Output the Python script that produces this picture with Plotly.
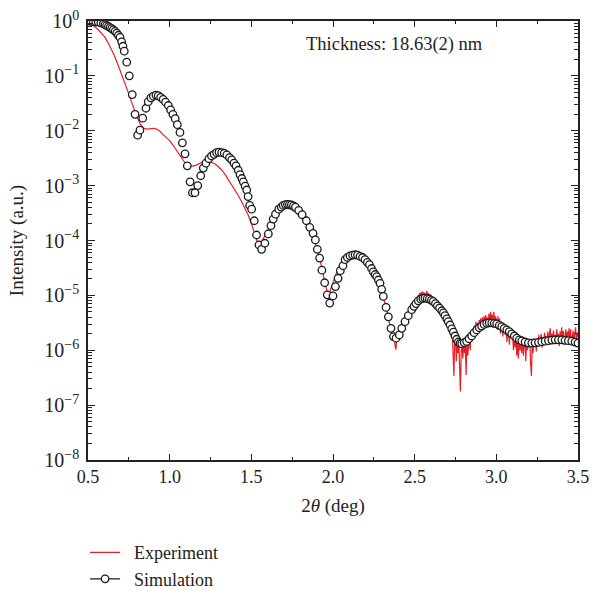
import numpy as np
import plotly.graph_objects as go

# ---------------- data ----------------
# Simulation: 2theta (deg) and log10(intensity)
sim_x = [0.500, 0.516, 0.532, 0.548, 0.563, 0.579, 0.594, 0.604, 0.614, 0.625,
         0.635, 0.645, 0.655, 0.666, 0.676, 0.686, 0.696, 0.706, 0.714, 0.722,
         0.737, 0.753, 0.771, 0.788, 0.804, 0.818, 0.835, 0.855, 0.869, 0.885,
         0.900, 0.916, 0.930, 0.945, 0.960, 0.975, 0.992, 1.006, 1.020, 1.034,
         1.047, 1.063, 1.078, 1.094, 1.108, 1.125, 1.139, 1.155, 1.172, 1.190,
         1.206, 1.222, 1.240, 1.256, 1.272, 1.287, 1.302, 1.318, 1.334, 1.350,
         1.366, 1.380, 1.394, 1.406, 1.420, 1.431, 1.442, 1.451, 1.462, 1.472,
         1.480, 1.490, 1.502, 1.518, 1.532, 1.547, 1.563, 1.583, 1.604, 1.620,
         1.634, 1.648, 1.668, 1.683, 1.695, 1.708, 1.721, 1.733, 1.745, 1.758,
         1.770, 1.790, 1.811, 1.837, 1.858, 1.878, 1.892, 1.904, 1.918, 1.932,
         1.949, 1.965, 1.980, 2.000, 2.015, 2.031, 2.045, 2.061, 2.074, 2.088,
         2.104, 2.120, 2.135, 2.150, 2.166, 2.181, 2.196, 2.210, 2.223, 2.236,
         2.247, 2.258, 2.268, 2.278, 2.288, 2.298, 2.308, 2.325, 2.339, 2.355,
         2.370, 2.386, 2.406, 2.421, 2.441, 2.461, 2.482, 2.496, 2.508, 2.522,
         2.537, 2.550, 2.563, 2.577, 2.590, 2.602, 2.614, 2.627, 2.639, 2.652,
         2.666, 2.676, 2.686, 2.697, 2.706, 2.717, 2.727, 2.737, 2.747, 2.757,
         2.767, 2.778, 2.788, 2.803, 2.818, 2.833, 2.849, 2.864, 2.880, 2.895,
         2.910, 2.925, 2.941, 2.956, 2.972, 2.987, 3.002, 3.018, 3.033, 3.048,
         3.064, 3.079, 3.094, 3.110, 3.125, 3.141, 3.156, 3.176, 3.196, 3.217,
         3.237, 3.258, 3.278, 3.299, 3.319, 3.340, 3.360, 3.380, 3.401, 3.421,
         3.441, 3.462, 3.482, 3.500]
sim_log10 = [0.00, -0.005, -0.01, -0.015, -0.02, -0.035, -0.05, -0.065, -0.085, -0.10,
             -0.12, -0.14, -0.16, -0.19, -0.22, -0.26, -0.30, -0.38, -0.46, -0.55,
             -0.75, -1.00, -1.34, -1.70, -2.08, -1.99, -1.77, -1.59, -1.47, -1.40,
             -1.37, -1.35, -1.36, -1.39, -1.43, -1.48, -1.54, -1.62, -1.70, -1.78,
             -1.89, -2.03, -2.22, -2.42, -2.64, -2.93, -3.13, -3.13, -3.00, -2.82,
             -2.68, -2.59, -2.51, -2.46, -2.43, -2.40, -2.39, -2.40, -2.41, -2.44,
             -2.49, -2.53, -2.59, -2.64, -2.72, -2.80, -2.87, -2.93, -3.01, -3.08,
             -3.20, -3.36, -3.43, -3.64, -3.90, -4.08, -4.16, -4.05, -3.88, -3.73,
             -3.61, -3.52, -3.43, -3.39, -3.36, -3.345, -3.34, -3.345, -3.35, -3.37,
             -3.39, -3.45, -3.53, -3.64, -3.76, -3.87, -3.99, -4.16, -4.32, -4.54,
             -4.77, -4.99, -5.14, -5.01, -4.84, -4.69, -4.55, -4.46, -4.35, -4.31,
             -4.28, -4.265, -4.26, -4.265, -4.29, -4.31, -4.35, -4.40, -4.44, -4.51,
             -4.57, -4.62, -4.66, -4.72, -4.78, -4.89, -5.02, -5.22, -5.39, -5.60,
             -5.75, -5.78, -5.72, -5.60, -5.48, -5.37, -5.26, -5.20, -5.15, -5.10,
             -5.07, -5.055, -5.05, -5.06, -5.07, -5.09, -5.11, -5.15, -5.19, -5.23,
             -5.28, -5.32, -5.37, -5.43, -5.48, -5.54, -5.61, -5.67, -5.74, -5.80,
             -5.85, -5.875, -5.88, -5.86, -5.84, -5.79, -5.74, -5.68, -5.63, -5.59,
             -5.56, -5.53, -5.51, -5.50, -5.50, -5.51, -5.52, -5.545, -5.57, -5.60,
             -5.63, -5.66, -5.70, -5.74, -5.78, -5.81, -5.83, -5.85, -5.865, -5.87,
             -5.865, -5.855, -5.845, -5.835, -5.825, -5.815, -5.81, -5.81, -5.81, -5.82,
             -5.825, -5.835, -5.85, -5.87]

# Experiment, smooth low-angle part
exp_x_low = [0.50, 0.52, 0.54, 0.56, 0.58, 0.60, 0.62, 0.64, 0.66, 0.68,
             0.70, 0.72, 0.74, 0.76, 0.78, 0.80, 0.82, 0.84, 0.86, 0.88,
             0.90, 0.92, 0.94, 0.96, 0.98, 1.00, 1.02, 1.04, 1.06, 1.08,
             1.10, 1.12, 1.14, 1.16, 1.18, 1.20, 1.22, 1.24, 1.26, 1.28,
             1.30, 1.32, 1.34, 1.36, 1.38, 1.40, 1.42, 1.44, 1.46, 1.48,
             1.50, 1.52, 1.54, 1.55, 1.56, 1.58, 1.60, 1.62, 1.64, 1.66,
             1.68, 1.70, 1.72, 1.74, 1.76, 1.78, 1.80, 1.82, 1.84, 1.86,
             1.88, 1.90, 1.92, 1.94, 1.96, 1.97, 1.98, 2.00, 2.02, 2.04,
             2.06, 2.08, 2.10, 2.12, 2.14, 2.16, 2.18, 2.20, 2.22, 2.24,
             2.26, 2.28]
exp_log10_low = [-0.03, -0.06, -0.10, -0.15, -0.21, -0.28, -0.38, -0.49, -0.62, -0.77,
                 -0.92, -1.08, -1.25, -1.42, -1.59, -1.75, -1.88, -1.95, -1.97, -1.96,
                 -1.955, -1.97, -2.01, -2.07, -2.13, -2.18, -2.26, -2.35, -2.45, -2.54,
                 -2.61, -2.64, -2.645, -2.63, -2.60, -2.57, -2.56, -2.56, -2.58, -2.61,
                 -2.66, -2.72, -2.80, -2.89, -2.98, -3.08, -3.18, -3.29, -3.40, -3.53,
                 -3.69, -3.88, -4.06, -4.08, -4.04, -3.93, -3.80, -3.68, -3.57, -3.49,
                 -3.44, -3.42, -3.41, -3.43, -3.46, -3.51, -3.57, -3.64, -3.73, -3.83,
                 -3.96, -4.13, -4.35, -4.60, -4.90, -5.02, -4.94, -4.75, -4.60, -4.49,
                 -4.40, -4.34, -4.30, -4.28, -4.27, -4.28, -4.31, -4.35, -4.41, -4.51,
                 -4.60, -4.73]

# Experiment, noisy high-angle part: sampled from 2.300 to 3.500 every 0.005 deg
exp_hi_start, exp_hi_step = 2.300, 0.005
exp_log10_hi = [
    -4.88, -4.99, -5.00, -5.12, -5.14, -5.25, -5.26, -5.38, -5.37, -5.50,
    -5.55, -5.60, -5.70, -5.68, -5.80, -5.74, -5.92, -5.99, -5.80, -5.72,
    -5.78, -5.66, -5.72, -5.60, -5.63, -5.52, -5.58, -5.47, -5.50, -5.42,
    -5.46, -5.36, -5.40, -5.30, -5.35, -5.26, -5.30, -5.20, -5.25, -5.16,
    -5.12, -5.10, -5.05, -5.10, -5.00, -5.04, -4.96, -5.03, -4.94, -5.00,
    -4.93, -5.01, -4.95, -5.03, -4.97, -4.92, -5.02, -4.96, -5.04, -4.98,
    -5.02, -5.10, -5.04, -5.12, -5.08, -5.16, -5.10, -5.20, -5.14, -5.24,
    -5.20, -5.30, -5.24, -5.35, -5.28, -5.40, -5.30, -5.45, -5.36, -5.48,
    -5.42, -5.55, -5.50, -5.70, -5.58, -5.75, -5.62, -5.95, -6.47, -5.80,
    -5.70, -6.20, -5.85, -6.05, -5.80, -6.30, -6.75, -6.00, -5.90, -6.15,
    -5.82, -6.05, -5.90, -6.45, -5.78, -6.10, -5.85, -5.72, -6.00, -5.70,
    -5.78, -5.62, -5.80, -5.55, -5.70, -5.48, -5.68, -5.50, -5.64, -5.45,
    -5.50, -5.42, -5.58, -5.40, -5.50, -5.38, -5.55, -5.36, -5.48, -5.40,
    -5.52, -5.33, -5.45, -5.30, -5.50, -5.35, -5.42, -5.30, -5.55, -5.38,
    -5.45, -5.62, -5.38, -5.58, -5.42, -5.70, -5.48, -5.52, -5.75, -5.55,
    -5.58, -5.72, -5.60, -5.85, -5.62, -5.68, -5.90, -5.64, -5.78, -5.66,
    -5.75, -6.00, -5.70, -5.95, -5.72, -6.10, -5.85, -6.15, -5.76, -6.00,
    -5.80, -6.05, -5.75, -6.10, -5.90, -5.78, -6.20, -5.82, -6.00, -5.85,
    -5.95, -5.80, -6.25, -6.47, -5.85, -6.05, -5.78, -5.92, -5.82, -6.02,
    -5.78, -5.92, -5.72, -5.88, -5.80, -5.70, -5.95, -5.76, -5.85, -5.68,
    -5.80, -5.74, -5.90, -5.66, -5.82, -5.72, -5.60, -5.85, -5.70, -5.78,
    -5.64, -5.80, -5.72, -5.88, -5.62, -5.76, -5.70, -5.92, -5.66, -5.80,
    -5.58, -5.78, -5.65, -5.90, -5.70, -5.62, -5.85, -5.66, -5.75, -5.60,
    -5.82, -5.62, -5.90, -5.70, -5.64, -5.85, -5.72, -5.58, -5.80, -5.68, -5.76]

y_tick_exponents = [0, -1, -2, -3, -4, -5, -6, -7, -8]
y_tick_labels = ["10<sup>0</sup>", "10<sup>−1</sup>", "10<sup>−2</sup>", "10<sup>−3</sup>",
                 "10<sup>−4</sup>", "10<sup>−5</sup>", "10<sup>−6</sup>", "10<sup>−7</sup>",
                 "10<sup>−8</sup>"]
series_names = ["Experiment", "Simulation"]
annotation_text = "Thickness: 18.63(2) nm"

# ---------------- build ----------------
exp_x_hi = [round(exp_hi_start + i * exp_hi_step, 3) for i in range(len(exp_log10_hi))]
exp_x = exp_x_low + exp_x_hi
exp_y = [10 ** v for v in exp_log10_low + exp_log10_hi]
sim_y = [10 ** v for v in sim_log10]

FONT = "Liberation Serif, DejaVu Serif, serif"
RED = "#ee1c25"
INK = "#222222"
PAD = "\u00a0\u00a0"  # small gap between legend symbol and label

fig = go.Figure()
fig.add_trace(go.Scatter(x=exp_x, y=exp_y, mode="lines", name=PAD + series_names[0],
                         line=dict(color=RED, width=1.2)))
fig.add_trace(go.Scatter(x=sim_x, y=sim_y, mode="markers", name=series_names[1],
                         showlegend=False,
                         marker=dict(symbol="circle", size=7.5, color="white",
                                     line=dict(color="#1a1a1a", width=1.3))))
# legend proxy (line + marker as in the reference legend)
fig.add_trace(go.Scatter(x=[None], y=[None], mode="lines+markers", name=PAD + series_names[1],
                         line=dict(color="#1a1a1a", width=1.3),
                         marker=dict(symbol="circle", size=7.5, color="white",
                                     line=dict(color="#1a1a1a", width=1.3))))

fig.update_layout(
    width=594, height=591,
    margin=dict(l=88, r=16, t=21, b=131, autoexpand=False),
    paper_bgcolor="white", plot_bgcolor="white",
    font=dict(family=FONT, size=18, color=INK),
    showlegend=True,
    legend=dict(x=-0.006, y=-0.169, xanchor="left", yanchor="top",
                bgcolor="rgba(0,0,0,0)", font=dict(size=18, family=FONT),
                tracegroupgap=0, itemwidth=30),
    annotations=[dict(text=annotation_text, xref="paper", yref="paper",
                      x=0.44, y=0.946, xanchor="left", yanchor="middle",
                      showarrow=False, font=dict(size=18.5, family=FONT, color=INK))],
)
fig.update_xaxes(
    range=[0.5, 3.5], dtick=0.5, tick0=0.5, tickformat=".1f", automargin=False,
    ticks="inside", ticklen=6, tickwidth=1.2, tickcolor=INK,
    minor=dict(dtick=0.25, ticks="inside", ticklen=3.5, tickwidth=1.2, tickcolor=INK),
    showline=True, linewidth=1.5, linecolor=INK, mirror="allticks",
    showgrid=False, zeroline=False,
    title=dict(text="2<i>θ</i> (deg)", font=dict(size=19, family=FONT), standoff=12),
    tickfont=dict(size=18, family=FONT),
)
fig.update_yaxes(
    type="log", range=[-8, 0], automargin=False,
    tickvals=[10 ** e for e in y_tick_exponents], ticktext=y_tick_labels,
    ticks="inside", ticklen=7, tickwidth=1.2, tickcolor=INK,
    minor=dict(dtick="D1", ticks="inside", ticklen=4, tickwidth=1, tickcolor=INK),
    showline=True, linewidth=1.5, linecolor=INK, mirror="allticks",
    showgrid=False, zeroline=False,
    ticklabelstandoff=3,
    title=dict(text="Intensity (a.u.)", font=dict(size=19, family=FONT), standoff=16),
    tickfont=dict(size=20, family=FONT),
)

fig.write_html("out.html", config={"displayModeBar": False},
               post_script="document.body.style.margin='0';document.body.style.overflow='hidden';")
